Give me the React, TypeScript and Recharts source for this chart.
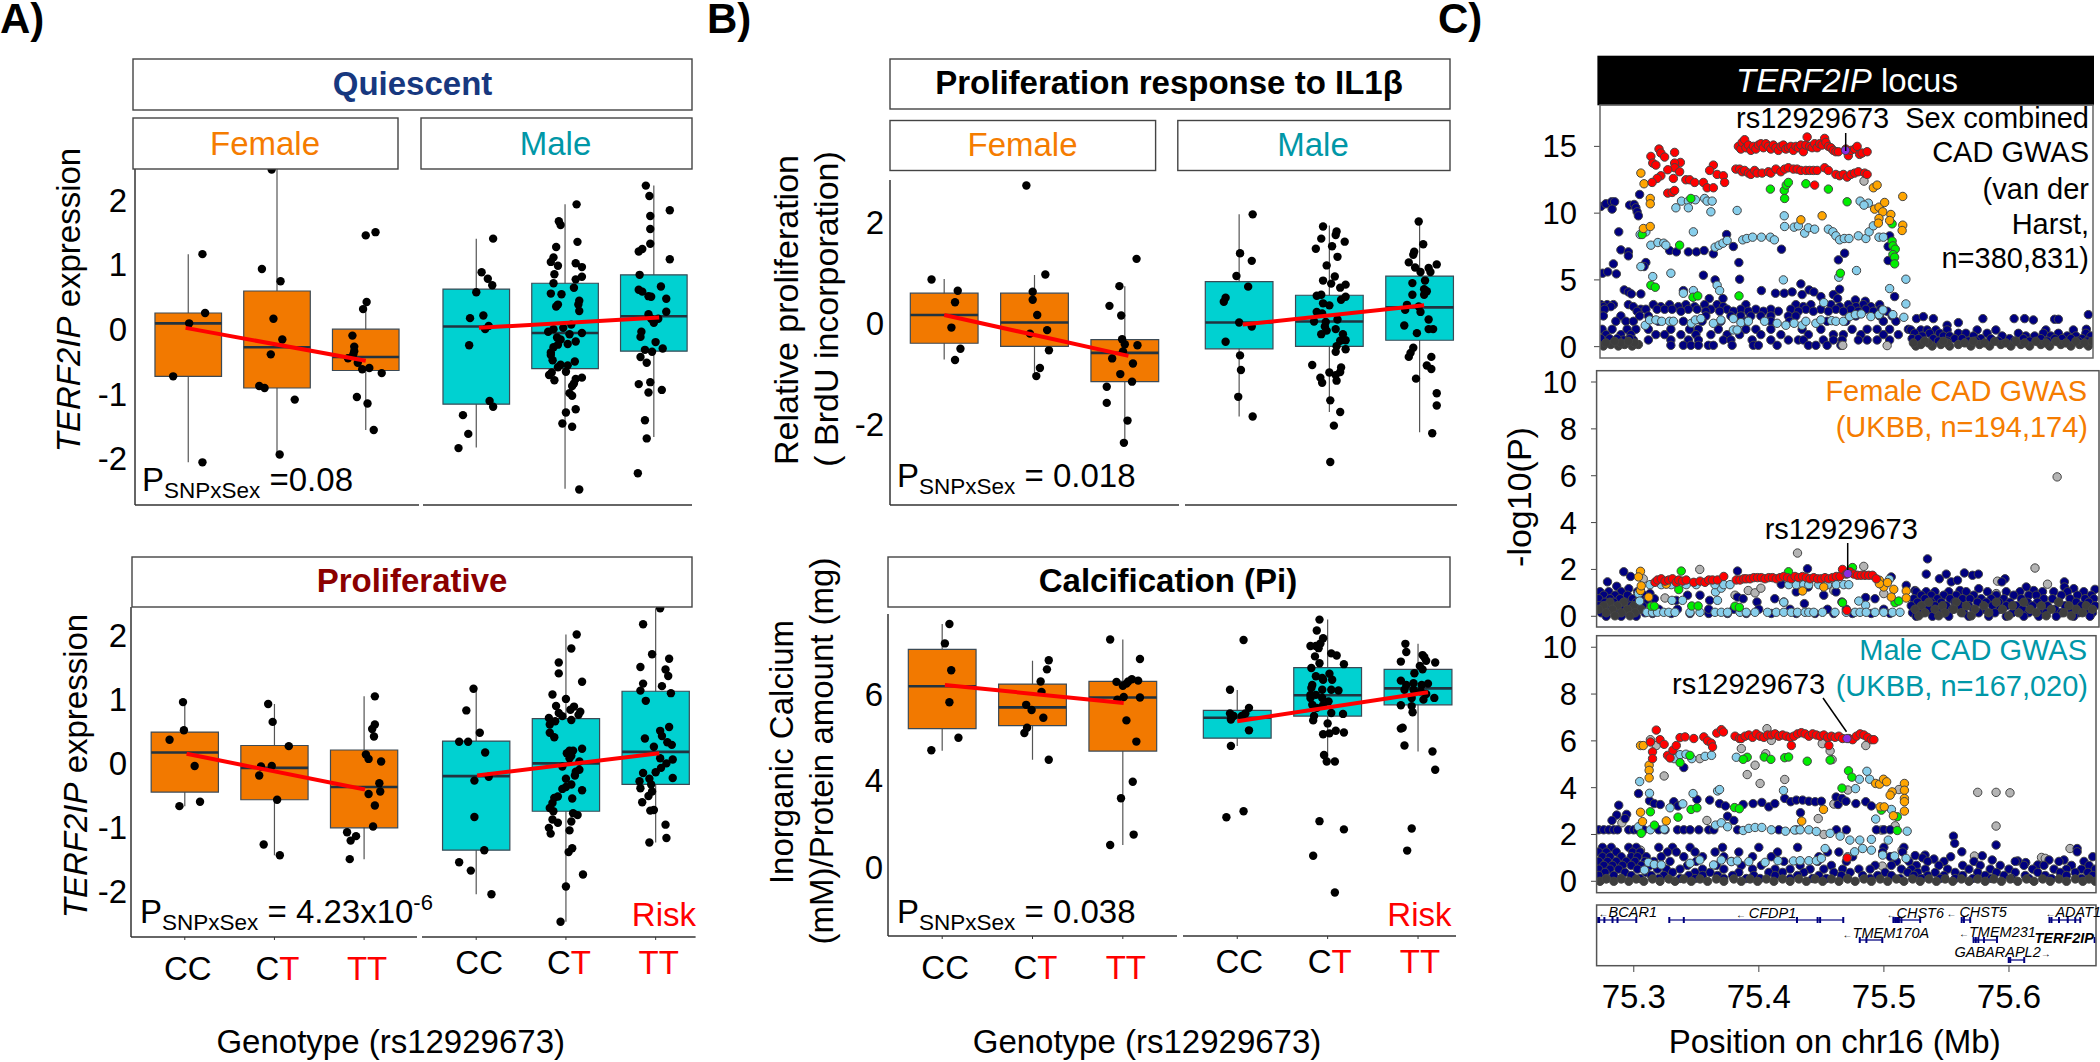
import React from 'react'
import { ScatterChart, Scatter, XAxis, YAxis, ReferenceArea, ReferenceLine } from 'recharts'

const FONT = '"Liberation Sans", Arial, sans-serif'
const ORANGE = '#F27900'
const CYAN = '#00D1D1'

type Pt = number[]
// one box per genotype: [q1, median, q3, whisker low, whisker high]
type Box = number[]

const genotypes = ['CC', 'CT', 'TT']

// ─── A) Quiescent ─────────────────────────────────────────────────────────
const quiFemaleBoxes: Box[] = [[-0.73, 0.09, 0.25, -2.06, 1.16], [-0.91, -0.28, 0.59, -1.94, 2.48], [-0.64, -0.43, 0, -1.56, 0.43]]
const quiFemaleTrend: Pt[] = [[0.97, 0.02], [3, -0.49]]
const quiFemalePts: Pt[] = [
  [1.16, 1.16], [1.19, 0.25], [1.01, 0.09], [0.83, -0.73], [1.16, -2.06],
  [1.94, 2.47], [1.83, 0.93], [2.04, 0.74], [1.96, 0.16], [2.06, -0.16], [1.93, -0.39], [1.8, -0.88], [1.86, -0.91], [2.2, -1.09], [2.03, -1.94],
  [3, 1.45], [3.11, 1.5], [3.01, 0.42], [2.97, 0.31], [2.85, -0.1], [2.87, -0.27], [2.87, -0.34], [2.86, -0.39], [2.8, -0.45], [2.91, -0.52], [2.96, -0.62], [3.04, -0.6], [3.18, -0.68], [2.9, -1.05], [3.02, -1.15], [3.09, -1.56],
]
const quiMaleBoxes: Box[] = [[-1.16, 0.04, 0.62, -1.83, 1.4], [-0.61, -0.06, 0.71, -2.47, 1.93], [-0.34, 0.2, 0.84, -1.67, 2.22]]
const quiMaleTrend: Pt[] = [[1.03, 0.02], [3.06, 0.18]]
const quiMalePts: Pt[] = [
  [1.19, 1.4], [1.06, 0.88], [1.13, 0.78], [1.18, 0.68], [1, 0.57], [0.93, 0.17], [1.08, 0.21], [1.14, 0.05], [1.1, 0], [0.92, -0.25], [1.15, -1.11], [1.19, -1.2], [0.85, -1.33], [0.91, -1.62], [0.8, -1.84],
  [2.13, 1.93], [1.93, 1.67], [1.95, 1.61], [2.14, 1.35], [1.9, 1.27], [1.87, 1.11], [1.84, 1.04], [1.92, 0.98], [2.12, 1.02], [2.19, 0.96], [1.88, 0.85], [2.19, 0.81], [2.12, 0.77], [1.87, 0.71], [2.1, 0.64], [1.84, 0.55], [1.96, 0.54], [2.16, 0.44], [1.92, 0.38], [1.9, 0.35], [2.15, 0.38], [2.16, 0.28], [2.07, 0.07], [1.98, 0.02], [1.87, 0], [1.81, -0.04], [2.19, -0.06], [2.05, -0.08], [1.91, -0.13], [1.95, -0.16], [2.12, -0.19], [1.92, -0.24], [2.03, -0.23], [1.87, -0.28], [1.84, -0.36], [1.84, -0.4], [1.86, -0.48], [2.11, -0.5], [1.95, -0.55], [2.03, -0.56], [1.92, -0.59], [2.01, -0.66], [1.85, -0.67], [1.82, -0.71], [1.88, -0.79], [2.12, -0.77], [2.19, -0.75], [2.1, -0.84], [2.08, -0.88], [2.05, -0.99], [2.08, -1.03], [2.12, -1.24], [2.01, -1.29], [1.97, -1.46], [2.08, -1.51], [2.16, -2.48],
  [2.91, 2.22], [2.95, 2.06], [3.18, 1.84], [2.96, 1.75], [2.96, 1.55], [2.96, 1.32], [2.87, 1.24], [2.83, 1.2], [3.18, 1.08], [2.84, 0.84], [3.08, 0.66], [2.83, 0.61], [2.87, 0.58], [2.94, 0.51], [2.97, 0.5], [3.14, 0.47], [3.14, 0.27], [2.94, 0.23], [2.97, 0.16], [3.05, 0.16], [3, 0.1], [2.86, -0.04], [2.85, -0.12], [3.02, -0.2], [2.9, -0.32], [2.98, -0.35], [3.1, -0.3], [2.85, -0.43], [2.92, -0.52], [2.83, -0.85], [2.96, -0.82], [2.94, -0.98], [3.09, -0.94], [2.9, -1.41], [2.92, -1.69], [2.82, -2.23],
]

// ─── A) Proliferative ─────────────────────────────────────────────────────
const proFemaleBoxes: Box[] = [[-0.45, 0.17, 0.49, -0.67, 0.96], [-0.57, -0.07, 0.28, -1.44, 0.93], [-1.01, -0.37, 0.21, -1.5, 1.05]]
const proFemaleTrend: Pt[] = [[1.02, 0.15], [3.01, -0.41]]
const proFemalePts: Pt[] = [
  [0.98, 0.96], [0.99, 0.52], [0.83, 0.37], [1.11, -0.04], [0.94, -0.67], [1.17, -0.6],
  [1.93, 0.93], [1.98, 0.65], [2.16, 0.27], [1.85, -0.05], [1.97, -0.04], [1.83, -0.19], [2.03, -0.57], [1.88, -1.27], [2.06, -1.44],
  [3.12, 1.05], [3.12, 0.61], [3.09, 0.54], [3.11, 0.42], [3.02, 0.14], [3.05, 0.07], [3.19, 0.03], [3.17, -0.31], [3.18, -0.44], [3.05, -0.48], [3.12, -0.66], [3.1, -0.99], [2.81, -1.08], [2.91, -1.14], [2.85, -1.21], [2.84, -1.5],
]
const proMaleBoxes: Box[] = [[-1.36, -0.2, 0.35, -2.05, 1.17], [-0.75, 0, 0.7, -2.48, 2.02], [-0.33, 0.18, 1.13, -1.24, 2.43]]
const proMaleTrend: Pt[] = [[1.01, -0.19], [3.04, 0.16]]
const proMalePts: Pt[] = [
  [0.97, 1.17], [0.89, 0.83], [1.04, 0.48], [0.81, 0.34], [0.91, 0.34], [1.1, 0.17], [1.14, -0.21], [0.98, -0.27], [0.98, -0.84], [1.09, -1.36], [0.81, -1.55], [0.94, -1.68], [1.17, -2.05],
  [2.12, 2.02], [2.06, 1.8], [1.92, 1.58], [1.92, 1.41], [2.18, 1.28], [1.85, 1.08], [2, 1.01], [1.89, 0.9], [2.09, 0.89], [2.05, 0.84], [2.16, 0.81], [2.14, 0.76], [1.92, 0.79], [1.96, 0.74], [1.81, 0.71], [2.06, 0.68], [1.88, 0.66], [1.82, 0.61], [1.82, 0.48], [1.87, 0.41], [2.18, 0.23], [2.04, 0.2], [2.08, 0.2], [2.01, 0.16], [2.06, 0.12], [2.04, 0.08], [2.15, 0.03], [1.96, -0.05], [2.15, -0.1], [2.11, -0.13], [2.1, -0.19], [2, -0.24], [2.06, -0.33], [2, -0.37], [2.18, -0.42], [1.96, -0.4], [1.91, -0.52], [1.87, -0.54], [2.07, -0.55], [1.85, -0.62], [1.82, -0.7], [1.86, -0.75], [2.08, -0.78], [2.13, -0.81], [1.85, -0.88], [1.91, -0.93], [2.06, -0.91], [1.81, -1.01], [1.83, -1.1], [2.04, -1.05], [2.07, -1.33], [2.03, -1.39], [2.19, -1.74], [2, -1.93], [1.94, -2.48],
  [3.05, 2.43], [2.86, 2.18], [2.96, 1.71], [3.15, 1.64], [2.83, 1.51], [3.11, 1.47], [3.14, 1.37], [2.86, 1.25], [3.07, 1.21], [2.83, 1.14], [3.17, 1.1], [2.89, 0.98], [3.15, 0.57], [3.05, 0.51], [3.07, 0.43], [2.88, 0.39], [3.13, 0.33], [3.18, 0.29], [2.98, 0.26], [3.05, 0.08], [3.19, 0.06], [3.12, 0], [3.06, -0.07], [3, -0.14], [2.86, -0.15], [3.19, -0.23], [2.82, -0.28], [2.93, -0.24], [2.95, -0.33], [2.83, -0.39], [2.96, -0.44], [2.92, -0.51], [2.85, -0.61], [2.98, -0.73], [2.94, -0.74], [3.11, -0.96], [3.12, -1.17], [2.93, -1.24],
]

// ─── B) Proliferation response ────────────────────────────────────────────
const brduFemaleBoxes: Box[] = [[-0.4, 0.16, 0.59, -0.72, 0.87], [-0.46, 0.01, 0.59, -1.07, 0.95], [-1.16, -0.59, -0.33, -2.38, 0.73]]
const brduFemaleTrend: Pt[] = [[1, 0.16], [3.04, -0.65]]
const brduFemalePts: Pt[] = [
  [0.86, 0.86], [1.15, 0.64], [1.12, 0.41], [1.08, -0.09], [1.18, -0.51], [1.12, -0.73],
  [1.91, 2.72], [2.12, 0.96], [1.98, 0.62], [1.98, 0.46], [2.03, 0.16], [2.14, -0.14], [1.95, -0.21], [2.16, -0.54], [2.06, -0.89], [2.02, -1.05],
  [3.13, 1.27], [2.94, 0.73], [2.83, 0.34], [2.96, 0.15], [2.97, -0.32], [3, -0.42], [3.14, -0.44], [2.98, -0.56], [2.86, -0.7], [3.09, -0.8], [2.95, -1.01], [3.08, -1.16], [2.8, -1.26], [2.8, -1.58], [3.03, -1.93], [2.99, -2.37],
]
const brduMaleBoxes: Box[] = [[-0.51, 0.01, 0.82, -1.85, 2.15], [-0.46, 0.03, 0.55, -1.76, 1.93], [-0.34, 0.31, 0.93, -2.16, 2.03]]
const brduMaleTrend: Pt[] = [[1.04, -0.03], [3.05, 0.35]]
const brduMalePts: Pt[] = [
  [1.15, 2.15], [1.01, 1.38], [1.14, 1.23], [0.97, 0.93], [1.1, 0.72], [0.85, 0.5], [0.83, 0.42], [1, 0.01], [1.14, -0.07], [0.85, -0.37], [1.01, -0.64], [1.02, -0.93], [0.99, -1.46], [1.15, -1.85],
  [1.93, 1.91], [2.08, 1.81], [2.07, 1.74], [1.91, 1.67], [2.17, 1.61], [2.03, 1.52], [1.85, 1.47], [2.09, 1.31], [1.97, 1.14], [2.06, 0.92], [1.93, 0.84], [2.02, 0.78], [2.18, 0.76], [2.12, 0.7], [1.86, 0.54], [1.91, 0.56], [2.18, 0.52], [2.13, 0.46], [1.93, 0.39], [2, 0.35], [1.86, 0.22], [1.92, 0.19], [2.09, 0.07], [1.83, 0.03], [1.96, 0.02], [1.95, -0.07], [2.07, -0.12], [1.97, -0.15], [1.91, -0.22], [2.15, -0.22], [2.18, -0.34], [2.12, -0.35], [2.08, -0.46], [2.18, -0.52], [2.07, -0.57], [1.81, -0.83], [2.13, -0.88], [2, -0.98], [2.12, -0.97], [2.07, -1.03], [1.9, -1.08], [1.92, -1.18], [2.08, -1.14], [2.01, -1.53], [2.12, -1.76], [2.05, -2.03], [2.01, -2.75],
  [2.99, 2.01], [3.04, 1.56], [2.94, 1.41], [2.93, 1.35], [2.88, 1.2], [3.19, 1.16], [2.95, 1.1], [3.1, 1.09], [3.01, 1.01], [3.12, 1.01], [2.92, 0.79], [3.06, 0.84], [3.05, 0.67], [3.08, 0.63], [2.92, 0.56], [3.05, 0.56], [2.86, 0.36], [2.99, 0.33], [2.84, 0.26], [3.01, 0.22], [3.1, 0.07], [2.83, -0.05], [3.1, -0.12], [3.15, -0.12], [2.97, -0.2], [2.93, -0.49], [2.9, -0.59], [2.88, -0.67], [3.13, -0.67], [3.08, -0.84], [3.13, -0.91], [2.96, -1.1], [3.19, -1.39], [3.19, -1.63], [3.14, -2.18],
]

// ─── B) Calcification ─────────────────────────────────────────────────────
const calcFemaleBoxes: Box[] = [[5.2, 6.18, 7.03, 4.69, 7.62], [5.27, 5.69, 6.23, 4.48, 6.77], [4.68, 5.92, 6.29, 2.51, 7.26]]
const calcFemaleTrend: Pt[] = [[1.03, 6.21], [3.01, 5.79]]
const calcFemalePts: Pt[] = [
  [1.08, 7.62], [1.03, 7.17], [1.1, 6.55], [1.08, 5.81], [1.18, 4.99], [0.88, 4.7],
  [2.18, 6.78], [2.16, 6.57], [2.09, 6.29], [2.1, 6.05], [1.93, 5.75], [1.99, 5.63], [2.12, 5.45], [1.94, 5.22], [1.91, 5.1], [2.18, 4.48],
  [2.86, 7.26], [3.19, 6.81], [2.93, 6.28], [3.17, 6.31], [3.1, 6.34], [3.06, 6.29], [3.04, 6.24], [3, 6.19], [3.19, 5.92], [3.01, 5.93], [2.94, 5.87], [3.04, 5.39], [3.15, 4.9], [3.11, 3.97], [2.98, 3.59], [3.12, 2.75], [2.86, 2.51],
]
const calcMaleBoxes: Box[] = [[4.98, 5.45, 5.62, 4.8, 6.09], [5.49, 5.97, 6.61, 4.44, 7.72], [5.75, 6.13, 6.57, 4.67, 7.16]]
const calcMaleTrend: Pt[] = [[1, 5.37], [3.11, 6.04]]
const calcMalePts: Pt[] = [
  [1.07, 7.25], [0.92, 6.1], [1.13, 5.68], [0.92, 5.55], [1.09, 5.55], [0.96, 5.49], [0.93, 5.41], [1.05, 5.49], [1.13, 5.16], [0.93, 4.8], [1.07, 3.29], [0.88, 3.15],
  [1.91, 7.72], [1.88, 7.47], [1.95, 7.29], [1.92, 7.17], [1.81, 7.11], [1.87, 7.11], [1.9, 7.06], [2.04, 6.94], [2.1, 6.89], [1.86, 6.87], [1.91, 6.71], [2.18, 6.69], [1.82, 6.6], [2.02, 6.47], [1.87, 6.41], [1.94, 6.37], [2.05, 6.33], [1.83, 6.21], [1.95, 6.33], [1.82, 6.14], [1.94, 6.1], [2.04, 6.1], [2.12, 6.08], [1.81, 5.98], [1.87, 5.98], [1.94, 5.91], [1.81, 5.91], [2.01, 5.83], [1.83, 5.75], [1.88, 5.68], [1.95, 5.74], [2.04, 5.56], [2.17, 5.54], [1.85, 5.49], [1.84, 5.39], [2, 5.32], [2.09, 5.15], [2.18, 5.11], [1.95, 5.07], [2.02, 5.09], [1.96, 4.59], [1.99, 4.44], [2.08, 4.44], [1.91, 3.06], [2.18, 2.87], [1.84, 2.26], [2.08, 1.41],
  [2.86, 7.16], [2.87, 6.97], [3.05, 6.9], [3.07, 6.85], [3.09, 6.77], [2.81, 6.75], [3.19, 6.73], [3.02, 6.65], [3.05, 6.57], [2.96, 6.48], [2.81, 6.31], [2.87, 6.21], [2.95, 6.25], [3.04, 6.21], [3.11, 6.24], [2.85, 6.1], [2.95, 6.1], [3.03, 6.06], [3.09, 6], [2.93, 5.91], [3.06, 5.87], [3.18, 5.91], [2.81, 5.74], [2.93, 5.72], [2.94, 5.58], [2.83, 5.22], [2.81, 5.2], [2.85, 4.81], [3.16, 4.67], [3.19, 4.25], [2.93, 2.89], [2.88, 2.38],
]

// ─── C) locus plots: x is kb past 75 Mb, y is -log10(P) ───────────────────
type Row = [number, number[]]
const fromRows = (rows: Row[]): Pt[] => rows.flatMap(([y, xs]) => xs.map(x => [x, y]))

const combinedRed: Pt[] = [
  [384, 15], [386, 14.8], [387, 15.3], [389, 15.5], [390, 14.9], [392, 15.1], [394, 14.7], [396, 15], [398, 14.8], [400, 15.1], [402, 15.2], [404, 14.9], [406, 15.2], [408, 15], [410, 14.8], [412, 15.1], [414, 14.9], [416, 14.7], [418, 15], [420, 15.1], [422, 14.8], [424, 14.9], [426, 15], [428, 14.7], [430, 15], [432, 14.9], [434, 15.1], [436, 14.6], [438, 15.1], [439, 15.7], [441, 15], [443, 14.9], [445, 15.2], [447, 14.9], [449, 15.2], [451, 15.1], [453, 15.6], [454, 15.3], [456, 15], [458, 14.9], [460, 14.7], [462, 14.6], [464, 14.6], [470, 14.8], [472, 14.3], [474, 14.7], [477, 14.8], [479, 15], [481, 14.4], [483, 14.5], [487, 14.6],
  [382, 13.3], [385, 13.3], [387, 13.1], [389, 13.2], [392, 13], [394, 12.9], [397, 13.2], [399, 13], [403, 13], [408, 13.1], [410, 13], [414, 13.3], [418, 13.1], [421, 13.3], [424, 13.4], [428, 13.3], [431, 13.3], [434, 13.2], [438, 13.2], [441, 13.2], [444, 13.2], [447, 13.2], [453, 13.4], [456, 13.2], [462, 12.9], [465, 12.8], [468, 12.9], [471, 12.7], [474, 12.9], [477, 13], [480, 13.1], [485, 13], [487, 12.9],
  [314, 14.25], [315.5, 13.75], [318, 13.6], [320.5, 14.8], [322, 14.5], [325, 14.2], [333, 14.55], [337.6, 13.8], [333, 13.75], [333, 13.4], [337, 13.1], [327.5, 13.25], [322, 12.8], [319, 12.6], [315, 12.3], [332, 12.6], [342, 12.5], [345, 12.5], [349, 12.3], [356, 12.3], [359, 11.9], [364, 11.9], [364, 13.6], [361, 13.2], [367, 12.9], [372, 12.8], [373, 12.3], [327.5, 11.5], [331, 11.55], [333, 11.7], [445, 12.1],
]
const combinedOrange: Pt[] = [
  [306, 13], [308.5, 12.2], [313.5, 11.1], [313.5, 10.7], [308, 8.85], [313.5, 9], [434, 9.5], [451, 9.8], [492, 11.9], [495, 12.1], [493, 10.3], [496.5, 10.45], [501, 10.8], [499.5, 10.1], [506, 9.9], [496.5, 9.6], [505, 9.45], [496, 9.25], [515.5, 11.25], [515.5, 9.1], [515, 8.7],
]
const combinedGreen: Pt[] = [
  [346, 11.1], [337, 7.6], [307, 8.4], [314, 4.6], [317.5, 4.45], [347.7, 3.7], [351.5, 3.8], [384.5, 3.8], [409.6, 11.8], [420.7, 11.7], [422.3, 12.1], [424, 12.3], [421, 11.1], [438, 12.2], [456, 11.8], [471, 10.85], [507, 9.2], [507, 7.9], [507.6, 7.55], [509.5, 7.3], [507.6, 6.9], [509, 6.7], [509, 6.2], [465.6, 5.5],
]
const combinedBlue: Pt[] = [
  [334, 10.4], [338.5, 10.9], [344, 10.9], [344, 10.4], [349.6, 11], [357, 11.1], [359, 10.9], [363, 10.9], [362, 10.1], [383, 10.2], [420.7, 9.8], [421, 9], [428.6, 8.95], [432, 9.05], [437, 8.5], [440, 8.9], [445, 8.8], [456, 8.8], [459.6, 8.6], [462, 8.3], [465, 8], [468.7, 8.1], [472.5, 8.1], [480, 8.3], [486, 8.1], [488.6, 8.6], [492, 9.05], [481.4, 10.9], [488, 10.75], [484.5, 10.6], [496.5, 8.2], [500, 8.2],
  [305.4, 8.4], [310, 8.6], [314, 7.6], [319.6, 7.8], [324.3, 7.75], [326, 7.6], [348, 8.6], [365.4, 7.45], [368.6, 7.6], [371.7, 7.75], [375, 7.95], [387.5, 8], [390.7, 8.1], [395.4, 8.2], [402.4, 8.2], [409.6, 8.2], [412.8, 8],
  [306, 6], [315.5, 5.25], [330, 5.5], [340, 4], [348, 4.2], [367, 4.6], [369, 4.2], [420, 5], [464.3, 5.2], [478.5, 5.7], [505, 4.35], [518, 5.05], [518, 3.2], [452.3, 3.3],
  [309.5, 1.6], [313, 2], [318, 2], [322.7, 1.9], [329, 1.9], [332, 1.9], [346.4, 1.75], [349.6, 2], [354, 2.1], [364, 1.75], [370, 2], [380, 2.1], [386, 1.8], [392, 1.9], [405, 1.9], [415, 1.75], [422, 1.6], [428.6, 1.75], [435, 1.6], [438, 1.9], [446, 1.75], [450, 2], [458.6, 1.95], [462, 1.9], [468, 1.9], [473, 2.25], [477.6, 2.4], [482.3, 2.45], [490, 2.25], [496.5, 2.4], [499.7, 2.75], [507.6, 2.4], [516.4, 2.2], [380, 1.25], [383, 1.25],
]
const combinedNavy: Pt[] = [
  [274, 10.5], [278, 10.7], [282.6, 10.85], [285, 10.85], [283, 10.3], [297, 10.6], [300.6, 10.65], [302, 10.4], [303, 10.1], [304, 9.8], [305, 11.4], [288.3, 8.6], [290, 7.25], [296, 7.1], [296, 6.8], [284, 6.2], [286.4, 5.45], [275.4, 5.5], [279.5, 5.6], [310, 6.3], [308.5, 6], [292.7, 4.25], [296, 4.1], [298.4, 3.95], [306, 3.95], [329, 7.2], [334.4, 7.1], [344, 7.1], [350.5, 7.1], [356.6, 7.2], [364, 6.95], [374.6, 8.4], [380, 7.5], [384.4, 6.3], [385, 5.05], [356, 5.35], [365.4, 5], [418.5, 7.3], [469, 7], [464, 6.5], [465, 4.3], [505, 8.3], [503.8, 7.5], [503.8, 6.45], [509, 3.75],
  [402.4, 4.2], [413.7, 4], [420.7, 4], [427, 4.1], [434, 4.7], [435, 3.9], [440.6, 4.25], [444.4, 4.1], [450, 3.75], [460, 3.9], [463.4, 3.6], [477.6, 3.5], [485.5, 3.4], [360.7, 3.6], [371.7, 3.6], [340, 4.2],
  [526.5, 2.1], [532, 2.25], [540, 2.1], [560, 1.8], [551, 1.6], [579.6, 2.1], [604.6, 2.1], [613, 2.1], [620, 2], [637, 2.05], [640, 2.05], [664, 2.4], [662.4, 1.3],
  ...fromRows([
    [3.15, [274, 279, 284, 296, 316, 329, 342, 357, 367, 390, 430, 442, 458, 472, 484, 497]],
    [3.0, [276, 282, 300, 322, 336, 349, 372, 436, 465, 478, 490]],
    [2.8, [272, 277, 306, 310, 319, 325, 331, 344, 351, 362, 375, 386, 398, 410, 426, 438, 450, 462, 474, 486, 498]],
    [2.65, [303, 338, 358, 369, 380, 392, 404, 416, 432, 444, 456, 468, 480, 492, 503]],
    [2.3, [272, 276, 290, 305, 312, 358, 378, 386, 394, 402, 410, 424, 430, 478, 497, 507]],
    [1.9, [286, 294, 300, 320, 340, 355, 370, 390, 410, 425, 455, 470, 500, 510]],
    [1.3, [275, 283, 295, 302, 312, 330, 345, 352, 368, 390, 398, 410, 435, 450, 475, 487, 495, 505, 520]],
    [0.9, [278, 290, 298, 318, 325, 338, 350, 362, 375, 385, 402, 418, 440, 460, 468, 482, 500, 512]],
    [0.5, [272, 280, 292, 300, 312, 330, 344, 352, 372, 378, 395, 410, 424, 432, 436, 452, 460, 467, 480, 487, 495, 505]],
    [0.1, [330, 340, 346, 352, 360, 364, 379, 396, 400, 415, 440, 446, 455, 466]],
    [1.25, [522, 530, 535, 542, 551, 575, 590, 630, 652]],
    [1.0, [525, 537, 545, 560, 566, 583, 608, 628, 640, 662]],
    [0.8, [531, 548, 553, 572, 595, 614, 621, 634, 647, 654, 666]],
    [0.6, [523, 528, 540, 557, 563, 578, 586, 601, 612, 626, 637, 643, 650, 659]],
    [0.42, [533, 544, 551, 568, 574, 592, 605, 617, 631, 656, 663]],
    [0.6, [274, 281, 287, 297]],
  ]),
]
const combinedDark: Pt[] = fromRows([
  [0.05, [276, 288, 299, 526, 539, 553, 570, 585, 602, 617, 633, 650, 664]],
  [0.16, [272, 282, 293, 304, 530, 546, 560, 577, 594, 610, 626, 642, 657]],
  [0.28, [278, 290, 301, 524, 536, 551, 565, 581, 598, 613, 630, 646, 661]],
  [0.4, [285, 296, 533, 548, 572, 589, 606, 622, 638, 654, 667]],
])
const combinedGray: Pt[] = [[484.5, 12.4], [503, 0.08], [467.5, 0.1]]
const combinedLead: Pt[] = [[469.7, 14.7]]

const femaleNavy: Pt[] = [
  [279, 1.47], [292, 1.9], [286.4, 1.28], [297.5, 1.7], [296, 1.18], [535, 2.45], [534, 1.8], [544.5, 1.6], [550, 1.8], [554, 1.47], [559, 1.54], [564.5, 1.85], [571, 1.75], [575.7, 1.8], [561, 1.1], [576, 1.18], [597, 1.6], [594.5, 1.47], [614, 1.25], [620, 1.1], [644.5, 1.47], [644.5, 1.25], [652, 1.18], [669, 1.15], [518, 1.32], [506, 1.68], [383, 1.93], [439, 2.03], [525, 1.1],
  [313, 0.97], [316.5, 0.75], [334, 0.68], [343, 0.9], [353, 0.9], [360.7, 0.68], [383, 0.82], [387.5, 0.75], [398.6, 0.61], [412.8, 0.75], [420, 0.61], [436.5, 0.54], [452, 0.9], [461.8, 1.04], [466.5, 0.61], [485.5, 0.8], [493, 0.75], [430, 1.04], [439.5, 1.25], [418, 1.37],
  ...fromRows([
    [0.12, [315, 330, 345, 360, 375, 390, 410, 430, 445, 460, 475, 490, 505]],
    [0.3, [320, 335, 360, 380, 400, 425, 455, 470, 500]],
    [1.05, [273, 280, 290, 303, 526, 534, 541, 552, 566, 583, 598, 609, 627, 636, 647, 660]],
    [0.9, [276, 285, 295, 308, 530, 538, 548, 558, 572, 590, 604, 616, 622, 642, 655, 666]],
    [0.75, [272, 281, 289, 299, 305, 524, 533, 543, 553, 563, 569, 578, 586, 596, 610, 628, 635, 649, 661, 668]],
    [0.6, [277, 284, 293, 302, 311, 527, 538, 546, 557, 575, 582, 592, 601, 615, 623, 640, 654, 664]],
    [0.45, [272, 279, 288, 298, 307, 522, 532, 541, 550, 561, 568, 587, 598, 606, 619, 631, 645, 658, 669]],
    [0.3, [282, 292, 303, 527, 536, 545, 555, 572, 580, 593, 611, 626, 637, 650, 663]],
    [0.15, [274, 285, 296, 309, 523, 531, 548, 564, 576, 589, 603, 616, 630, 642, 656, 667]],
    [0.0, [278, 290, 302, 526, 539, 552, 568, 584, 598, 612, 624, 638, 652, 665]],
  ]),
]
const femaleDark: Pt[] = fromRows([
  [0.6, [281, 292, 536, 558, 590, 612, 640]],
  [0.45, [276, 287, 300, 530, 547, 566, 580, 603, 626, 648, 662]],
  [0.3, [272, 283, 295, 306, 525, 541, 556, 573, 595, 617, 634, 654, 667]],
  [0.15, [278, 290, 301, 533, 549, 562, 584, 608, 622, 644, 659]],
  [0.02, [285, 297, 528, 544, 570, 600, 630, 650]],
])
const femaleBlue: Pt[] = [
  [365.4, 1.04], [370, 1.2], [504.5, 1.58], [303.8, 0.97], [304.7, 0.65], [330.6, 0.68], [339, 0.68], [367, 0.68], [420, 0.6], [480, 0.65], [485.5, 0.47],
  ...fromRows([
    [1.35, [313, 322, 330, 342, 350, 365, 372, 377, 424, 430, 436, 440, 448, 455, 462, 468, 472]],
    [0.17, [310.5, 315, 319, 324, 328, 333, 345, 353, 365, 370, 375, 385, 390, 397, 407, 414, 420, 426, 431, 437, 440, 444, 451, 461, 470, 477, 481, 486, 493, 500, 507, 513]],
  ]),
]
const femaleGreen: Pt[] = [
  [338, 1.93], [336, 1.14], [314, 0.43], [316.5, 0.43], [346.4, 0.44], [351.5, 0.44], [381, 0.43], [384.5, 0.38], [467, 0.58], [509, 0.58], [512, 0.65], [475, 2.08], [423.8, 1.9],
]
const femaleOrange: Pt[] = [
  [305.4, 1.92], [303.8, 1.68], [305.4, 1.1], [306, 1.3], [312, 0.82], [326, 1.37], [435, 1.08], [452, 1.25], [496.5, 1.54], [500, 1.25], [503, 1.44], [508, 1.15], [506, 0.82], [518, 1.08], [518, 0.78], [496.5, 1.39],
]
const femaleGray: Pt[] = [
  [638.7, 5.95], [431, 2.7], [352.8, 2], [484, 2.13], [621, 2.06], [631, 1.37], [591, 1.5], [325, 0.78], [381, 0.9], [391.6, 1.1], [397, 1], [401.7, 1.2], [460, 1.1], [500, 0.97], [590, 0.97], [307.6, 1.6],
]
const femaleRed: Pt[] = [
  [317, 1.45], [319, 1.55], [322, 1.6], [325, 1.5], [328, 1.55], [331, 1.6], [334, 1.45], [336, 1.55], [339, 1.5], [342, 1.55], [348, 1.45], [353, 1.5], [357, 1.45], [360, 1.55], [363, 1.55], [367, 1.55], [372, 1.7], [382, 1.55], [385, 1.55], [388, 1.6], [390, 1.6], [393, 1.6], [396, 1.65], [399, 1.65], [402, 1.65], [405, 1.6], [408, 1.65], [411, 1.65], [414, 1.6], [417, 1.65], [420, 1.7], [423, 1.65], [426, 1.6], [429, 1.7], [432, 1.65], [435, 1.7], [438, 1.65], [441, 1.6], [444, 1.65], [447, 1.6], [450, 1.6], [453, 1.65], [456, 1.6], [459, 1.65], [462, 1.7], [465, 1.7], [467, 2], [470, 1.8], [473, 1.9], [476, 1.8], [479, 1.75], [482, 1.75], [485, 1.75], [488, 1.75], [491, 1.75], [494, 1.6], [470.5, 0.25],
]
const femaleLead: Pt[] = [[471.2, 1.82]]

const maleNavy: Pt[] = [
  [303.8, 3.75], [312.6, 3.44], [316.4, 3.32], [321.2, 3.28], [332, 3.4], [335.4, 3.22], [350.5, 3.5], [360.7, 3.47], [368.6, 3.32], [373.3, 3.22], [387.5, 3.28], [395.4, 3.32], [402.4, 3.37], [408, 3.18], [412.8, 3.32], [420.7, 3.54], [425.5, 3.4], [430, 3.47], [435, 3.47], [440, 3.42], [445, 3.4], [450, 3.42], [461.8, 3.6], [463.4, 3.28], [466.5, 3.54], [469.7, 3.42], [477.6, 3.32], [485.5, 3.4], [490, 3.22], [340, 4.86], [433.3, 2.93], [375, 2.78], [380, 2.6], [288, 3.25], [286.4, 2.83], [282.6, 2.6], [294.3, 2.86], [293, 2.68],
  [555.6, 1.93], [556.6, 1.62], [562.3, 1.26], [589.7, 1.55], [532.9, 1.12], [553.4, 1.05], [578.7, 1.09], [586.6, 0.91], [607, 0.87], [613.4, 0.8], [623, 0.7], [632, 0.91], [644, 0.91], [654.5, 1.4], [654.5, 1.26], [667, 1.05], [540, 0.95], [525, 1.1], [531, 1],
  ...fromRows([
    [2.2, [272, 276, 280, 284, 287, 296, 300, 303, 308, 320, 325, 335, 340, 345, 352, 360, 364, 383, 416, 430, 462, 470, 494, 500, 505]],
    [1.45, [275, 282, 296, 302, 320, 331, 345, 371, 400, 431, 500, 516]],
    [1.25, [272, 278, 286, 299, 305, 327, 334, 349, 365, 384, 415, 455, 464, 499, 515]],
    [1.05, [275, 281, 290, 298, 303, 310, 322, 340, 355, 372, 395, 410, 448, 475, 505]],
    [0.85, [272, 279, 286, 294, 301, 309, 316, 329, 350, 378, 420, 447, 470, 510, 520, 535, 548, 572, 605, 640, 660]],
    [0.68, [276, 283, 291, 298, 306, 313, 343, 366, 386, 402, 433, 458, 493, 506, 526, 544, 563, 577, 593, 612, 628, 650, 664]],
    [0.52, [272, 281, 288, 303, 319, 326, 337, 355, 372, 395, 413, 425, 441, 452, 467, 480, 489, 514, 522, 533, 551, 568, 585, 600, 619, 636, 646, 658, 669]],
    [0.38, [277, 293, 310, 331, 349, 361, 384, 408, 419, 436, 460, 473, 501, 519, 527, 541, 557, 575, 590, 605, 623, 641, 653, 663]],
    [0.25, [272, 284, 298, 314, 324, 344, 355, 367, 379, 396, 413, 431, 448, 466, 483, 495, 506, 524, 535, 548, 563, 581, 596, 613, 629, 646, 667]],
    [0.12, [278, 290, 305, 320, 337, 349, 372, 390, 401, 425, 443, 454, 471, 489, 513, 530, 545, 557, 571, 586, 602, 616, 634, 658]],
  ]),
]
const maleDark: Pt[] = fromRows([
  [0.0, [273, 284, 296, 308, 321, 333, 346, 359, 372, 386, 399, 412, 425, 438, 451, 464, 477, 490, 503, 516, 529, 542, 555, 568, 581, 594, 607, 620, 633, 646, 659, 669]],
  [0.1, [278, 290, 302, 315, 328, 340, 353, 366, 380, 393, 406, 419, 432, 445, 458, 471, 484, 497, 510, 523, 536, 549, 562, 575, 588, 601, 614, 627, 640, 653, 664]],
])
const maleBlue: Pt[] = [
  [332.2, 5.24], [337, 5.41], [341.7, 5.43], [346.4, 5.24], [357, 5.34], [362.2, 5.38], [382, 5.3], [304.7, 4.26], [312.6, 3.76], [347.4, 3.75], [367, 3.86], [368.6, 3.92], [419.7, 3.88], [477.3, 3.96], [480.4, 4.36], [486.4, 4.7], [488.6, 4.36], [329, 3.14], [339.2, 3.31],
  [303.8, 2.33], [313.3, 2.2], [324.3, 2.23], [365.4, 2.4], [370, 2.5], [375, 2.33], [387.5, 2.17], [392, 2.26], [397, 2.3], [402.4, 2.3], [410, 2.2], [421.3, 2.14], [428.6, 2.19], [433, 2.2], [440, 2.2], [446, 2.13], [457, 2.05], [465, 1.93], [472.8, 1.76], [480.7, 1.76], [490, 1.79], [493.4, 2.66], [506, 3.07], [503.5, 1.76], [518.6, 2.14],
  [308.5, 0.48], [311.7, 0.81], [316.4, 0.72], [322, 0.7], [345, 0.77], [352.8, 0.91], [363.8, 0.7], [370, 0.91], [378, 0.84], [382.8, 0.87], [392, 0.84], [405, 0.81], [415.3, 0.88], [427.7, 0.87], [433, 0.88], [440, 0.88], [446, 0.88], [450, 0.98], [453, 1.4], [471, 1.05], [476.6, 1.26], [483, 1.4], [490, 1.33], [499, 1.12], [508.5, 1.08], [517.7, 0.98],
]
const maleGreen: Pt[] = [
  [313.3, 2.97], [316.5, 2.4], [306, 2.05], [344.9, 5.38], [337, 5.07], [335.4, 2.74], [345.8, 3.07], [350.5, 3.14], [380.6, 3.15], [384.4, 3.1], [390.7, 5.3], [387.5, 5.21], [404.3, 5.31], [409.6, 5.21], [420.7, 5.28], [423.8, 5.31], [438.7, 5.13], [457, 5.18], [471.7, 4.72], [474.4, 4.45], [466.5, 3.98], [498, 3.04], [510.7, 2.76], [510.7, 2.17],
]
const maleOrange: Pt[] = [
  [305.4, 5.8], [307.6, 5.8], [312.3, 4.96], [312.3, 4.74], [312.3, 4.42], [305.4, 2.95], [307, 2.55], [326, 2.58], [451.7, 3.07], [434.3, 2.57], [493.4, 4.18], [496.5, 4.15], [499.7, 4.36], [502.2, 4.25], [497, 3.18], [500.3, 3.18], [506.6, 3.82], [505, 3.68], [516.4, 4.18], [516.4, 3.89], [516.4, 3.54], [516.4, 3.4], [516.4, 3], [507.6, 2.8],
]
const maleGray: Pt[] = [
  [313.3, 6.05], [318, 5.8], [386, 5.67], [406.5, 6.52], [410, 6.02], [450.7, 5.88], [457, 5.57], [458.6, 5.2], [397, 4.96], [390.7, 4.56], [401, 4.18], [405.5, 5.45], [420.7, 4.35], [324.3, 4.5], [471.2, 3.9], [460, 3.3], [447.5, 2.68], [358.5, 2.6], [575, 3.8], [589.7, 3.8], [600.8, 3.78], [589.7, 2.36], [572.4, 1.08], [626, 1.02], [629, 0.98], [648.8, 1.4], [498.7, 0.65], [498, 2.19], [509, 2.37], [290.5, 2.5], [288, 0.9], [305.4, 1.33], [512, 3.92], [485.5, 5.8], [352.8, 5.24], [452, 2], [514.5, 1.33], [506, 1.05],
]
const maleRed: Pt[] = [
  [318, 6.46], [313.3, 5.95], [321, 6.05], [324.3, 5.85], [315, 5.53], [315, 5.24], [327, 5.38], [329, 5.27], [331.3, 5.6], [334, 5.8], [337, 6.14], [341, 6.17], [348, 6.1], [356, 6.17], [359, 6], [362, 5.9], [363, 5.74], [366.4, 6.33], [370, 6.48], [371.7, 6.38],
  [381, 6.2], [384.5, 6.1], [386, 6.1], [389, 6.2], [392, 6.25], [395, 6.15], [398, 6.3], [401, 6.2], [404, 6.15], [407, 6.25], [410, 6.25], [413, 6.3], [416, 6.2], [419, 6.25], [422, 6.2], [425, 6.15], [428, 6.2], [431, 6.3], [434, 6.35], [437, 6.3], [440, 6.2], [443, 6.3], [446, 6.25], [449, 6.2], [452, 6.25], [455, 6.15], [458, 6.2], [461, 6.15], [464, 6.2], [467, 6.1], [472, 6.1], [475, 6.05], [478, 6.2], [481, 6.3], [484, 6.25], [487, 6.15], [490, 6.05], [492, 6.05], [426, 5.8], [456, 5.8], [470.6, 1],
]
const maleLead: Pt[] = [[470.5, 6.1]]

// ─── C) gene track ────────────────────────────────────────────────────────
const geneSpans: number[][] = [
  [271.2, 302.2, 2], [328.4, 467.5, 2], [507.6, 529.1, 2], [562.2, 569.2, 2], [632.4, 657, 2],
  [480.7, 498.7, 1], [571.7, 590.4, 1], [599.8, 612.2, 0], [668, 670, 1],
]
const geneExons: Pt[] = [
  [271.5, 2], [272.3, 2], [276.5, 2], [283, 2], [287, 2], [302, 2], [328.4, 2], [340, 2], [430.5, 2], [447, 2], [449, 2], [467.5, 2],
  [507.6, 2], [509, 2], [510.5, 2], [512, 2], [514, 2], [529, 2], [562.2, 2], [564, 2], [569, 2], [632.4, 2], [634, 2], [640, 2], [647, 2], [653, 2], [657, 2],
  [480.7, 1], [486, 1], [498.7, 1], [571.7, 1], [573.5, 1], [575.5, 1], [580, 1], [590.4, 1], [599.8, 0], [601, 0], [612.2, 0], [668.5, 1],
]
const geneLabels: { name: string; x: number; y: number; before?: string; after?: string; bold?: boolean }[] = [
  { name: 'BCAR1', before: '←', x: 1598.6, y: 917 },
  { name: 'CFDP1', before: '← ', x: 1736, y: 918 },
  { name: 'CHST6', before: '←', x: 1886.5, y: 918 },
  { name: 'CHST5', before: '← ', x: 1946.6, y: 917 },
  { name: 'ADAT1', before: '←', x: 2045.4, y: 917 },
  { name: 'TMEM170A', before: '←', x: 1842.6, y: 938 },
  { name: 'TMEM231', before: '←', x: 1959, y: 936.7 },
  { name: 'TERF2IP', x: 2034.4, y: 943, bold: true },
  { name: 'GABARAPL2', after: '→', x: 1954.5, y: 957.3 },
]

// ─── Genotype tick with the risk allele in red ────────────────────────────
function GenotypeTick({ x, y, payload, dx, dy }: any) {
  const label = genotypes[payload.value - 1] ?? ''
  return (
    <text x={x + dx} y={y + dy} textAnchor="middle" fontSize={33} fontFamily={FONT}>
      {label.split('').map((c: string, i: number) => (
        <tspan key={i} fill={c === 'T' ? '#ff0000' : '#000'}>{c}</tspan>
      ))}
    </text>
  )
}

const dot = (r: number, fill: string, stroke = 'none') => (p: any) =>
  <circle cx={p.cx} cy={p.cy} r={r} fill={fill} stroke={stroke} strokeWidth={1} />

const toXY = (pts: Pt[]) => pts.map(([x, y]) => ({ x, y }))

// ─── One facet of boxes, jittered points and a trend line ────────────────
function Facet({
  plotLeft, top, plotW, plotH, yAxisW = 0, yGap = 6, xDomain, yDomain, yTicks = [], yFormat,
  boxes, pts, trend, fill, labelDy, labelDx,
}: any) {
  const showLabels = labelDy !== undefined
  return (
    <div style={{ position: 'absolute', left: plotLeft - yAxisW, top }}>
      <ScatterChart width={plotW + yAxisW} height={plotH + 50} margin={{ top: 0, right: 0, bottom: 0, left: 0 }}>
        <XAxis
          type="number" dataKey="x" domain={xDomain} ticks={[1, 2, 3]} height={50} allowDataOverflow
          axisLine={{ stroke: '#333', strokeWidth: 1.5 }} tickLine={{ stroke: '#333' }} tickSize={3}
          tick={showLabels ? <GenotypeTick dx={labelDx} dy={labelDy} /> : false}
        />
        <YAxis
          type="number" dataKey="y" domain={yDomain} ticks={yTicks} width={yAxisW} hide={!yAxisW} allowDataOverflow
          axisLine={{ stroke: '#333', strokeWidth: 1.5 }} tickLine={false} tickSize={0} tickMargin={yGap} interval={0}
          tick={{ fontSize: 33, fill: '#000', fontFamily: FONT }} tickFormatter={yFormat}
        />
        {boxes.map(([, , , lo, hi]: Box, i: number) => (
          <ReferenceLine
            key={`w${i}`} zIndex={90} ifOverflow="hidden" stroke="#555" strokeWidth={1.2}
            segment={[{ x: i + 1, y: lo }, { x: i + 1, y: hi }]}
          />
        ))}
        {boxes.map(([q1, , q3]: Box, i: number) => (
          <ReferenceArea
            key={`b${i}`} zIndex={100} x1={i + 1 - 0.375} x2={i + 1 + 0.375} y1={q1} y2={q3}
            fill={fill} fillOpacity={1} stroke="#3c4a55" strokeWidth={1.2}
          />
        ))}
        {boxes.map(([, med]: Box, i: number) => (
          <ReferenceLine
            key={`m${i}`} zIndex={110} stroke="#22333f" strokeWidth={2.6}
            segment={[{ x: i + 1 - 0.375, y: med }, { x: i + 1 + 0.375, y: med }]}
          />
        ))}
        <Scatter data={toXY(pts)} isAnimationActive={false} shape={dot(4.2, '#000')} />
        <ReferenceLine
          zIndex={700} stroke="#ff0000" strokeWidth={4}
          segment={[{ x: trend[0][0], y: trend[0][1] }, { x: trend[1][0], y: trend[1][1] }]}
        />
      </ScatterChart>
    </div>
  )
}

const LD = { navy: '#000080', dark: '#3d3d3d', gray: '#b4b4b4', blue: '#87CEEB', green: '#00EE00', orange: '#FFA500', red: '#FF0000', lead: '#8A2BE2' }

// ─── One LocusZoom style panel ────────────────────────────────────────────
function LocusPanel({ plotLeft, top, plotW, plotH, xDomain, yDomain, yTicks, tickGap = 14, series }: any) {
  const yAxisW = 100
  return (
    <div style={{ position: 'absolute', left: plotLeft - yAxisW, top }}>
      <ScatterChart width={plotW + yAxisW} height={plotH} margin={{ top: 0, right: 0, bottom: 0, left: 0 }}>
        <XAxis type="number" dataKey="x" domain={xDomain} hide allowDataOverflow />
        <YAxis
          type="number" dataKey="y" domain={yDomain} ticks={yTicks} width={yAxisW} interval={0} allowDataOverflow
          axisLine={false} tickLine={{ stroke: '#444' }} tickSize={6} tickMargin={tickGap}
          tick={{ fontSize: 31, fill: '#000', fontFamily: FONT }}
        />
        {series.map(([pts, fill]: any, i: number) => (
          <Scatter key={i} data={toXY(pts)} isAnimationActive={false} shape={dot(4.2, fill, '#444')} />
        ))}
      </ScatterChart>
    </div>
  )
}

function Strip({ x, y, w, h = 51, children }: any) {
  return (
    <g>
      <rect x={x} y={y} width={w} height={h} fill="#fff" stroke="#444" strokeWidth={1.4} />
      {children}
    </g>
  )
}

function Label({ x, y, size = 33, anchor = 'middle', fill = '#000', bold, rot, children }: any) {
  return (
    <text
      x={x} y={y} fontSize={size} textAnchor={anchor} fill={fill} fontFamily={FONT}
      fontWeight={bold ? 700 : 400} transform={rot ? `rotate(-90 ${x} ${y})` : undefined}
    >
      {children}
    </text>
  )
}

function PValue({ x, y, text, sup }: any) {
  return (
    <text x={x} y={y} fontSize={33} fontFamily={FONT}>
      P<tspan fontSize={22.5} dy={7}>SNPxSex</tspan>
      <tspan dy={-7}> {text}</tspan>
      {sup && <tspan fontSize={22} dy={-13}>{sup}</tspan>}
    </text>
  )
}

const ORANGE_TEXT = '#F57C00'
const TEAL_TEXT = '#0097A7'

export default function App() {
  return (
    <div style={{ position: 'absolute', left: 0, top: 0, width: 2100, height: 1062, overflow: 'hidden', background: '#fff' }}>
      {/* A) */}
      <Facet plotLeft={134.5} top={169} plotW={284} plotH={336} yAxisW={100} yGap={8} xDomain={[0.4, 3.6]} yDomain={[-2.72, 2.477]} yTicks={[-2, -1, 0, 1, 2]} boxes={quiFemaleBoxes} pts={quiFemalePts} trend={quiFemaleTrend} fill={ORANGE} />
      <Facet plotLeft={423} top={169} plotW={269} plotH={336} xDomain={[0.4, 3.43]} yDomain={[-2.72, 2.477]} boxes={quiMaleBoxes} pts={quiMalePts} trend={quiMaleTrend} fill={CYAN} />
      <Facet plotLeft={131} top={607} plotW={286} plotH={330} yAxisW={100} yGap={4} xDomain={[0.4, 3.59]} yDomain={[-2.72, 2.45]} yTicks={[-2, -1, 0, 1, 2]} boxes={proFemaleBoxes} pts={proFemalePts} trend={proFemaleTrend} fill={ORANGE} labelDx={3} labelDy={38} />
      <Facet plotLeft={422.4} top={607} plotW={273.6} plotH={330} xDomain={[0.396, 3.445]} yDomain={[-2.72, 2.45]} boxes={proMaleBoxes} pts={proMalePts} trend={proMaleTrend} fill={CYAN} labelDx={3} labelDy={32} />

      {/* B) */}
      <Facet plotLeft={890} top={180} plotW={289} plotH={325} yAxisW={80} xDomain={[0.4, 3.6]} yDomain={[-3.6, 2.83]} yTicks={[-2, 0, 2]} boxes={brduFemaleBoxes} pts={brduFemalePts} trend={brduFemaleTrend} fill={ORANGE} />
      <Facet plotLeft={1184.5} top={180} plotW={272.5} plotH={325} xDomain={[0.4, 3.42]} yDomain={[-3.6, 2.83]} boxes={brduMaleBoxes} pts={brduMalePts} trend={brduMaleTrend} fill={CYAN} />
      <Facet plotLeft={888} top={614} plotW={289} plotH={322} yAxisW={80} yGap={5} xDomain={[0.4, 3.6]} yDomain={[0.405, 7.85]} yTicks={[2, 4, 6]} yFormat={(v: number) => (v === 2 ? '0' : String(v))} boxes={calcFemaleBoxes} pts={calcFemalePts} trend={calcFemaleTrend} fill={ORANGE} labelDx={3} labelDy={38} />
      <Facet plotLeft={1183} top={614} plotW={273} plotH={322} xDomain={[0.4, 3.42]} yDomain={[0.405, 7.85]} boxes={calcMaleBoxes} pts={calcMalePts} trend={calcMaleTrend} fill={CYAN} labelDx={2} labelDy={32} />

      {/* C) */}
      <LocusPanel
        plotLeft={1600} top={105} plotW={493} plotH={253} xDomain={[273.3, 667.7]} yDomain={[-0.85, 18.1]} yTicks={[0, 5, 10, 15]} tickGap={17}
        series={[[combinedNavy, LD.navy], [combinedDark, LD.dark], [combinedGray, LD.gray], [combinedBlue, LD.blue], [combinedGreen, LD.green], [combinedOrange, LD.orange], [combinedRed, LD.red], [combinedLead, LD.lead]]}
      />
      <LocusPanel
        plotLeft={1596.6} top={370.7} plotW={502.4} plotH={256.3} xDomain={[270.6, 672.5]} yDomain={[-0.47, 10.47]} yTicks={[0, 2, 4, 6, 8, 10]}
        series={[[femaleGray, LD.gray], [femaleNavy, LD.navy], [femaleDark, LD.dark], [femaleBlue, LD.blue], [femaleGreen, LD.green], [femaleOrange, LD.orange], [femaleRed, LD.red], [femaleLead, LD.lead]]}
      />
      <LocusPanel
        plotLeft={1596.6} top={635.7} plotW={499.4} plotH={257} xDomain={[270.6, 669.9]} yDomain={[-0.5, 10.48]} yTicks={[0, 2, 4, 6, 8, 10]}
        series={[[maleGray, LD.gray], [maleNavy, LD.navy], [maleDark, LD.dark], [maleBlue, LD.blue], [maleGreen, LD.green], [maleOrange, LD.orange], [maleRed, LD.red], [maleLead, LD.lead]]}
      />
      <div style={{ position: 'absolute', left: 1596.6, top: 905 }}>
        <ScatterChart width={499.4} height={110} margin={{ top: 0, right: 0, bottom: 0, left: 0 }}>
          <XAxis
            type="number" dataKey="x" domain={[270.6, 669.9]} ticks={[300, 400, 500, 600]} height={49} allowDataOverflow
            axisLine={false} tickLine={{ stroke: '#444' }} tickSize={6} tickMargin={13}
            tick={{ fontSize: 33, fill: '#000', fontFamily: FONT }} tickFormatter={(v: number) => (75 + v / 1000).toFixed(1)}
          />
          <YAxis type="number" dataKey="y" domain={[-0.3, 2.75]} hide allowDataOverflow />
          {geneSpans.map(([a, b, row], i) => (
            <ReferenceLine key={i} stroke="#3a3a9c" strokeWidth={1.6} segment={[{ x: a, y: row }, { x: b, y: row }]} />
          ))}
          <Scatter data={toXY(geneExons)} isAnimationActive={false} shape={(p: any) => <rect x={p.cx - 1} y={p.cy - 3} width={2} height={6} fill="#000080" />} />
        </ScatterChart>
      </div>

      {/* strips, titles, annotations */}
      <svg width={2100} height={1062} style={{ position: 'absolute', left: 0, top: 0, pointerEvents: 'none' }}>
        <Label x={0} y={33} size={42} anchor="start" bold>A)</Label>
        <Label x={707} y={33} size={42} anchor="start" bold>B)</Label>
        <Label x={1438} y={33} size={42} anchor="start" bold>C)</Label>

        <Strip x={133} y={59} w={559}><Label x={412.5} y={94.7} bold fill="#17387F">Quiescent</Label></Strip>
        <Strip x={133} y={118} w={265}><Label x={265} y={155} fill={ORANGE_TEXT}>Female</Label></Strip>
        <Strip x={421} y={118} w={271}><Label x={555.5} y={155} fill={TEAL_TEXT}>Male</Label></Strip>
        <Strip x={132} y={557} w={560} h={50}><Label x={412} y={591.7} bold fill="#8B0000">Proliferative</Label></Strip>

        <Strip x={890} y={59} w={560} h={50}><Label x={1169} y={93.7} bold>Proliferation response to IL1β</Label></Strip>
        <Strip x={890} y={120.5} w={265.6} h={50}><Label x={1022.5} y={155.6} fill={ORANGE_TEXT}>Female</Label></Strip>
        <Strip x={1177.8} y={120.5} w={272.2} h={50}><Label x={1313} y={155.6} fill={TEAL_TEXT}>Male</Label></Strip>
        <Strip x={888} y={557} w={562} h={50}><Label x={1168} y={591.7} bold>Calcification (Pi)</Label></Strip>

        <Label x={80} y={300} rot><tspan fontStyle="italic">TERF2IP</tspan> expression</Label>
        <Label x={87} y={766} rot><tspan fontStyle="italic">TERF2IP</tspan> expression</Label>
        <Label x={798} y={310} size={34} rot>Relative proliferation</Label>
        <Label x={838} y={309} size={34} rot>( BrdU incorporation)</Label>
        <Label x={793} y={752} rot>Inorganic Calcium</Label>
        <Label x={833} y={751} rot>(mM)/Protein amount (mg)</Label>
        <Label x={1530.6} y={497} size={34} rot>-log10(P)</Label>

        <PValue x={142} y={491} text="=0.08" />
        <PValue x={140} y={923} text="= 4.23x10" sup="-6" />
        <PValue x={897} y={487} text="= 0.018" />
        <PValue x={897} y={923} text="= 0.038" />
        <Label x={696} y={925.5} anchor="end" fill="#ff0000">Risk</Label>
        <Label x={1451.5} y={926} anchor="end" fill="#ff0000">Risk</Label>
        <Label x={390.7} y={1053}>Genotype (rs12929673)</Label>
        <Label x={1147} y={1053}>Genotype (rs12929673)</Label>

        <rect x={1597.4} y={55.7} width={496.6} height={49.6} fill="#000" />
        <Label x={1847} y={92} fill="#fff"><tspan fontStyle="italic">TERF2IP</tspan> locus</Label>
        <rect x={1600} y={105} width={493} height={253} fill="none" stroke="#666" strokeWidth={1.5} />
        <rect x={1596.6} y={370.7} width={502.4} height={256.3} fill="none" stroke="#555" strokeWidth={1.5} />
        <rect x={1596.6} y={635.7} width={499.4} height={257} fill="none" stroke="#555" strokeWidth={1.5} />
        <rect x={1596.6} y={905} width={499.4} height={60.7} fill="none" stroke="#555" strokeWidth={1.5} />

        <Label x={1736} y={128} size={29} anchor="start">rs12929673</Label>
        <line x1={1845.7} y1={133} x2={1845.7} y2={151} stroke="#000" strokeWidth={1.5} />
        {['Sex combined', 'CAD GWAS', '(van der', 'Harst,', 'n=380,831)'].map((t, i) => (
          <Label key={t} x={2089} y={[128.3, 162.3, 199, 234, 268][i]} size={29} anchor="end">{t}</Label>
        ))}
        <Label x={2087} y={401} size={29} anchor="end" fill={ORANGE_TEXT}>Female CAD GWAS</Label>
        <Label x={2088} y={436.7} size={29} anchor="end" fill={ORANGE_TEXT}>(UKBB, n=194,174)</Label>
        <Label x={1764.7} y={539.3} size={29} anchor="start">rs12929673</Label>
        <line x1={1847.7} y1={543} x2={1847.7} y2={570} stroke="#000" strokeWidth={1.5} />
        <Label x={2087} y={660} size={29} anchor="end" fill={TEAL_TEXT}>Male CAD GWAS</Label>
        <Label x={2088} y={695.7} size={29} anchor="end" fill={TEAL_TEXT}>(UKBB, n=167,020)</Label>
        <Label x={1672} y={694} size={29} anchor="start">rs12929673</Label>
        <line x1={1823} y1={698} x2={1846.5} y2={731.7} stroke="#000" strokeWidth={1.5} />

        {geneLabels.map(g => (
          <text key={g.name} x={g.x} y={g.y} fontSize={14.5} fontStyle="italic" fontWeight={g.bold ? 700 : 400} fontFamily={FONT}>
            {g.before && <tspan fontSize={10} fontStyle="normal">{g.before}</tspan>}
            {g.name}
            {g.after && <tspan fontSize={10} fontStyle="normal">{g.after}</tspan>}
          </text>
        ))}
        <Label x={1834.7} y={1052.7}>Position on chr16 (Mb)</Label>
      </svg>
    </div>
  )
}
